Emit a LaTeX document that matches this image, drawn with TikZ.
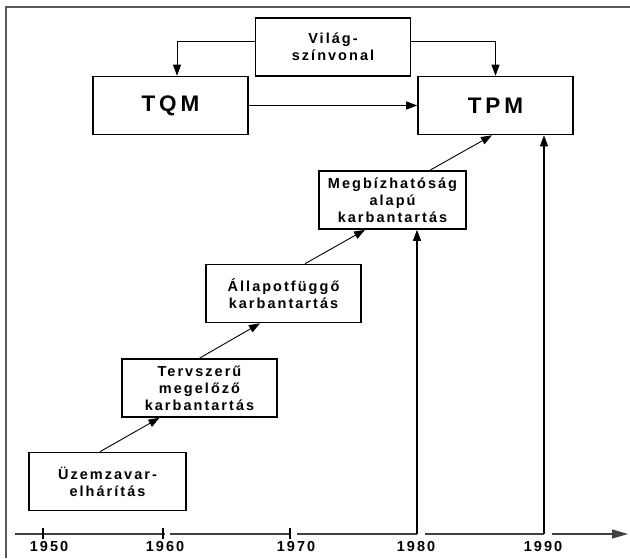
\documentclass[tikz,border=0pt]{standalone}
\usepackage{fontspec}
\setmainfont{Liberation Sans}[LetterSpace=14]
\newfontfamily\bigfont{Liberation Sans}[LetterSpace=17]
\usetikzlibrary{arrows.meta}
\begin{document}
\begin{tikzpicture}[x=1pt,y=-1pt,
  box/.style={draw, line width=1.6pt, align=center, inner sep=0pt,
    minimum width=155pt, minimum height=58pt,
    font=\fontsize{14.5}{17}\selectfont\bfseries},
  bigbox/.style={box, font=\bigfont\fontsize{22.5}{24}\selectfont\bfseries},
  arr/.style={line width=0.9pt, -{Triangle[length=11pt,width=8pt]}},
  varr/.style={line width=1.2pt, -{Triangle[length=11pt,width=8pt]}},
  axisline/.style={line width=1.4pt, draw=black!75},
  frameline/.style={line width=1.3pt, draw=black!65},
  year/.style={font=\fontsize{14.5}{17}\selectfont\bfseries, inner sep=0pt}
]
\useasboundingbox (0,0) rectangle (630,558);
% frame
\draw[frameline] (6,558) -- (6,7) -- (630,7);

% boxes
\node[box] (vil) at (333,47) {Világ-\\színvonal};
\node[bigbox] (tqm) at (170.5,105.5) {TQM};
\node[bigbox] (tpm) at (495.5,105.5) {TPM};
\node[box, minimum width=147pt] (meg) at (392.5,200) {Megbízhatóság\\alapú\\karbantartás};
\node[box] (all) at (283.5,293.5) {Állapotfüggő\\karbantartás};
\node[box] (ter) at (199.5,388) {Tervszerű\\megelőző\\karbantartás};
\node[box, minimum width=157pt] (uz) at (107.5,481.5) {Üzemzavar-\\elhárítás};

% top connectors
\draw[arr] ([yshift=6pt]vil.west) -| ([xshift=6.5pt]tqm.north);
\draw[arr] ([yshift=6pt]vil.east) -| (tpm.north);
\draw[arr] (tqm) -- (tpm);

% staircase connectors
\draw[arr] ([xshift=-7.5pt]uz.north) -- ([xshift=-40pt]ter.south);
\draw[arr] (ter.north) -- ([xshift=-23.5pt]all.south);
\draw[arr] ([xshift=21.5pt]all.north) -- ([xshift=-27.5pt]meg.south);
\draw[arr] ([xshift=37.5pt]meg.north) -- ([xshift=-3.5pt]tpm.south);

% axis
\coordinate (a0) at (15,534);
\coordinate (t50) at (43,534);
\coordinate (t60) at (163,534);
\coordinate (g60) at (170,534);
\coordinate (t70) at (290,534);
\coordinate (g70) at (297,534);
\coordinate (t80) at (417,534);
\coordinate (g80) at (425,534);
\coordinate (t90) at (544,534);
\coordinate (g90) at (552,534);
\coordinate (aend) at (628,534);
\draw[axisline] (a0) -- ([xshift=2pt]t60);
\draw[axisline] (g60) -- (t70);
\draw[axisline] (g70) -- (t80);
\draw[axisline] (g80) -- (t90);
\draw[axisline, -{Triangle[length=16pt,width=9pt]}] (g90) -- (aend);
\foreach \t in {t50,t60,t70}{
  \draw[line width=1.4pt] ([yshift=6pt]\t) -- ([yshift=-5pt]\t);
}
% vertical arrows
\draw[varr] (t80) -- (t80 |- meg.south);
\draw[varr] (t90) -- (t90 |- tpm.south);

% year labels
\node[year] (y50) at (49,546.5) {1950};
\node[year] (y60) at (165,546.5) {1960};
\node[year] (y70) at (296,546.5) {1970};
\node[year] (y80) at (416,546.5) {1980};
\node[year] (y90) at (543,546.5) {1990};
\end{tikzpicture}
\end{document}
